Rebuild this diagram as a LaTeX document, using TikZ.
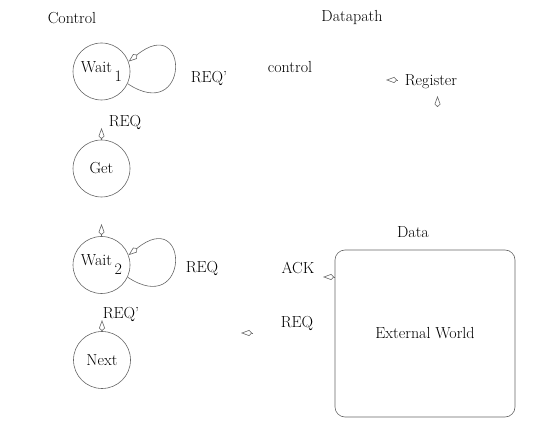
\documentclass[tikz,border=0pt]{standalone}
\usetikzlibrary{arrows.meta,positioning}

\begin{document}
\begin{tikzpicture}[
    %---- GLOBAL STYLE TWEAKS ----
    x=1pt, y=-1pt,                                   % work in pixels, y down
    font=\fontsize{16}{18}\selectfont,
    state/.style = {circle, draw=black!60, line width=0.6pt,
                    minimum size=57pt, inner sep=0pt},
    worldbox/.style = {rectangle, draw=black!60, line width=0.6pt,
                    rounded corners=10pt,
                    minimum width=180pt, minimum height=167pt},
    tip/.style = {-{Kite[open, length=11pt, width=6pt]},
                  draw=black!60, line width=0.6pt},
    txt/.style = {inner sep=1pt},
]
\useasboundingbox (0,0) rectangle (538,435);

%---- HEADINGS ----
\node (control_h)  [txt] at (72,18)  {Control};
\node (datapath_h) [txt] at (352,18) {Datapath};
\node (data_h)     [txt] at (413,232) {Data};

%---- CONTROL STATES ----
\node (wait1) [state] at (101.5,71.5) {Wait\,\raisebox{-9pt}{1}};
\node (get)   [state] at (101.5,168.5) {Get};
\node (wait2) [state] at (101.5,265)  {Wait\,\raisebox{-9pt}{2}};
\node (next)  [state] at (102,360)    {Next};

\node (req_w1)  [txt] at (209,78)  {REQ'};
\node (req_get) [txt] at (125,122) {REQ};
\node (req_w2)  [txt] at (202,268) {REQ};
\node (req_nx)  [txt] at (121,314) {REQ'};

%---- DATAPATH ----
\node (ctrl_lbl) [txt] at (290,67)  {control};
\node (register) [txt] at (431,82)  {Register};
\node (ack_lbl)  [txt] at (298,268) {ACK};
\node (req_lbl)  [txt] at (297,323) {REQ};
\node (world)    [worldbox] at (425,333.5) {External World};

%---- LOOSE ENDS ----
\coordinate (get_t)   at (101.5,128);
\coordinate (wait2_t) at (101.5,224);
\coordinate (next_t)  at (102,320);
\coordinate (req_a)   at (253,333);
\coordinate (req_b)   at (241,333);
\coordinate (reg_a)   at (397,80);
\coordinate (reg_b)   at (386,80);
\coordinate (reg_c)   at (437.5,106);
\coordinate (reg_d)   at (437.5,96);
\coordinate (ack_a)   at (335,277);
\coordinate (ack_b)   at (323,277);

%---- SELF LOOPS ----
\draw[tip] (wait1.-25) .. controls (190,125) and (190,12) .. (wait1.20);
\draw[tip] (wait2.-25) .. controls (190,318.5) and (190,205.5) .. (wait2.20);

%---- ARROWS ----
\foreach \a/\b in {
  get/get_t, wait2/wait2_t, next/next_t,
  req_a/req_b, reg_a/reg_b, reg_c/reg_d, ack_a/ack_b}
  \draw[tip] (\a) -- (\b);
\end{tikzpicture}
\end{document}
